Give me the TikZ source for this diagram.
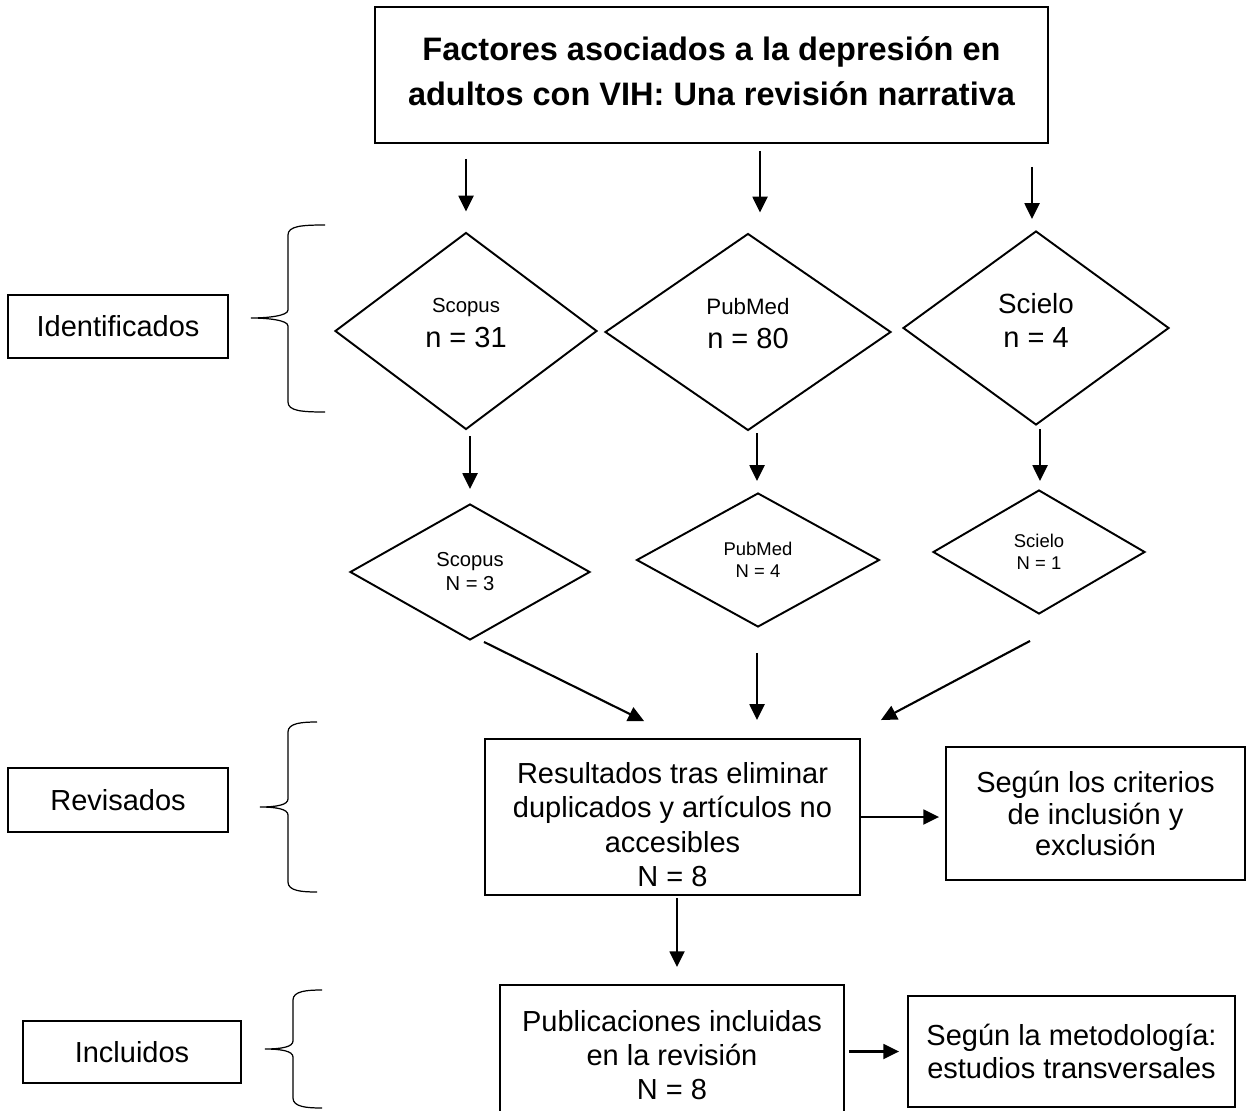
\documentclass[tikz,border=0pt]{standalone}
\usepackage{fontspec}
\setmainfont{Liberation Sans}
\usetikzlibrary{shapes.geometric,arrows.meta,calc}
\newcommand\drawbrace[6]{\draw[bracestyle] (#1,#4) .. controls (#2+14,#4) and (#2,#4+1) .. (#2,#4+10) -- (#2,#5-8) .. controls (#2,#5-2) and (#3+16,#5) .. (#3,#5) .. controls (#3+16,#5) and (#2,#5+2) .. (#2,#5+8) -- (#2,#6-10) .. controls (#2,#6-1) and (#2+14,#6) .. (#1,#6);}
\begin{document}
\begin{tikzpicture}[x=0.02cm,y=-0.02cm,
  box/.style={draw,line width=1.1pt,inner sep=0pt,align=center,font=\fontsize{16.5}{19}\selectfont},
  dia/.style={draw,shape=diamond,line width=1.1pt,inner sep=0pt,align=center},
  arr/.style={line width=1.2pt,-{Triangle[length=9pt,width=8.5pt]}},
  bracestyle/.style={line width=0.7pt}
]
\useasboundingbox (0,0) rectangle (1253,1111);
\clip (0,0) rectangle (1253,1111);
\fill[white] (0,0) rectangle (1253,1111);

% title
\node[box,minimum width=13.46cm,minimum height=2.72cm,text depth=0.16cm,font=\fontsize{18.5}{26}\selectfont\bfseries] (title) at (711.5,75) {Factores asociados a la depresión en\\adultos con VIH: Una revisión narrativa};

% left boxes
\node[box,minimum width=4.4cm,minimum height=1.26cm] (ident) at (118,326.5) {Identificados};
\node[box,minimum width=4.4cm,minimum height=1.28cm] (rev) at (118,800) {Revisados};
\node[box,minimum width=4.36cm,minimum height=1.24cm] (incl) at (132,1052) {Incluidos};

% big diamonds
\node[dia,minimum width=5.24cm,minimum height=3.94cm,text depth=0.34cm,font=\fontsize{16.5}{20}\selectfont] (scopusA) at (466,331) {{\fontsize{11.6}{13}\selectfont Scopus}\\n = 31};
\node[dia,minimum width=5.72cm,minimum height=3.94cm,text depth=0.34cm,font=\fontsize{16.5}{19}\selectfont] (pubmedA) at (748,332) {{\fontsize{12.7}{14}\selectfont PubMed}\\n = 80};
\node[dia,minimum width=5.32cm,minimum height=3.88cm,text depth=0.3cm,font=\fontsize{16.5}{19.5}\selectfont] (scieloA) at (1036,328) {{\fontsize{15.8}{17}\selectfont Scielo}\\n = 4};

% small diamonds
\node[dia,minimum width=4.8cm,minimum height=2.72cm,font=\fontsize{11.5}{13.7}\selectfont] (scopusB) at (470,572) {Scopus\\N = 3};
\node[dia,minimum width=4.86cm,minimum height=2.68cm,font=\fontsize{10.5}{12.8}\selectfont] (pubmedB) at (758,560) {PubMed\\N = 4};
\node[dia,minimum width=4.24cm,minimum height=2.48cm,font=\fontsize{10.5}{12.8}\selectfont] (scieloB) at (1039,552) {Scielo\\N = 1};

% process boxes
\node[box,minimum width=7.5cm,minimum height=3.12cm,text height=2.78cm,font=\fontsize{16.5}{19.5}\selectfont] (res) at (672.5,817) {Resultados tras eliminar\\duplicados y artículos no\\accesibles\\N = 8};
\node[box,minimum width=5.98cm,minimum height=2.66cm,font=\fontsize{16.5}{18}\selectfont] (crit) at (1095.5,813.5) {Según los criterios\\de inclusión y\\exclusión};
\node[box,minimum width=6.88cm,minimum height=2.9cm,text depth=0.1cm,font=\fontsize{16.5}{19.3}\selectfont] (pub) at (672,1057.5) {Publicaciones incluidas\\en la revisión\\N = 8};
\node[box,minimum width=6.54cm,minimum height=2.22cm,font=\fontsize{16.5}{19.3}\selectfont] (met) at (1071.5,1051.5) {Según la metodología:\\estudios transversales};

% arrows title -> big diamonds
\draw[arr] ($(title.south -| scopusA.north)+(0,15)$) -- ($(scopusA.north)+(0,-20)$);
\draw[arr] ($(title.south -| pubmedA.north)+(12,7)$) -- ($(pubmedA.north)+(12,-20)$);
\draw[arr] ($(title.south -| scieloA.north)+(-4,23)$) -- ($(scieloA.north)+(-4,-11)$);

% big -> small
\draw[arr] ($(scopusA.south)+(4,6)$) -- ($(scopusB.north)+(0,-14)$);
\draw[arr] ($(pubmedA.south)+(9,2)$) -- ($(pubmedB.north)+(-1,-11)$);
\draw[arr] ($(scieloA.south)+(4,3)$) -- ($(scieloB.north)+(1,-8)$);

% small -> res
\draw[arr] ($(scopusB.south)+(14,1)$) -- ($(res.north west)+(160,-17)$);
\draw[arr] ($(pubmedB.south)+(-1,25)$) -- ($(pubmedB.south |- res.north)+(-1,-18)$);
\draw[arr] ($(scieloB.south)+(-9,26)$) -- ($(res.north east)+(20,-18)$);

% res -> crit, res -> pub, pub -> met
\draw[arr,shorten >=0.12cm] (res.east) -- (res.east -| crit.west);
\draw[arr,shorten <=0.04cm,shorten >=0.34cm] ($(res.south)+(4.5,0)$) -- ($(res.south |- pub.north)+(4.5,0)$);
\draw[arr,shorten <=0.08cm,shorten >=0.16cm] (pub.east |- met.west) -- (met.west);

% braces
\drawbrace{325}{288}{251}{225}{318}{412}
\drawbrace{317}{288}{260}{722}{807}{892}
\drawbrace{322}{293}{265}{990}{1049}{1108}
\end{tikzpicture}
\end{document}
